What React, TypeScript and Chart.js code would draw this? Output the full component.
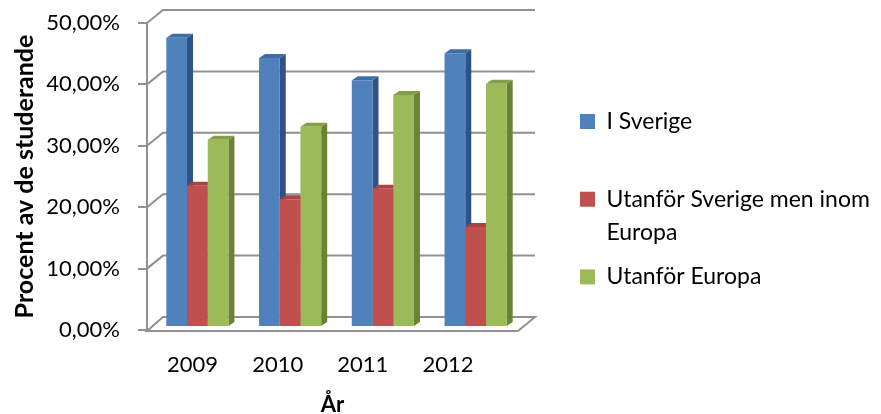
import React, { useEffect, useRef } from 'react';
import { Chart, registerables } from 'chart.js';

Chart.register(...registerables);

const years = ['2009', '2010', '2011', '2012'];
const iSverige = [47.1, 43.8, 40.2, 44.6];
const inomEuropa = [23.0, 20.8, 22.5, 16.3];
const utanforEuropa = [30.5, 32.6, 37.8, 39.6];
const seriesNames = ['I Sverige', 'Utanför Sverige men inom Europa', 'Utanför Europa'];
const legendLines = [['I Sverige', ''], ['Utanför Sverige men inom', 'Europa'], ['Utanför Europa']];

const FONT = 'Lato, "Open Sans", sans-serif';
const frontColors = ['#4F81BD', '#C0504D', '#9BBB59'];
const topColors = ['#3F6DA6', '#A94442', '#849F47'];
const sideColors = ['#2F5388', '#8A3533', '#6A8336'];

const DEPTH_X = 16;
const DEPTH_Y = -13;
const BAR_SHIFT_X = 4;
const BAR_SHIFT_Y = -3;
const BAR_DX = 6;
const BAR_DY = -4;
const GRID = '#919191';
const LEGEND_PAD = 11;

const threeD = {
  id: 'threeD',
  afterLayout(chart: any) {
    const xl = chart.scales.xl;
    const area = chart.chartArea;
    if (xl) {
      xl.left = area.left + 3;
      xl.right = area.left + 3 + (area.right - area.left) * 0.918;
      xl.width = xl.right - xl.left;
      xl.configure();
    }
    const lg = chart.legend;
    if (lg) {
      lg.left = 580 - LEGEND_PAD;
      lg.right = chart.width;
      lg.width = lg.right - lg.left;
      lg.top = 110 - LEGEND_PAD;
      lg.bottom = chart.height;
      lg.height = lg.bottom - lg.top;
    }
  },
  beforeDatasetsDraw(chart: any) {
    const { ctx, chartArea } = chart;
    const y = chart.scales.y;
    const { left, right } = chartArea;
    ctx.save();
    ctx.strokeStyle = GRID;
    ctx.lineWidth = 2;
    y.ticks.forEach((t: any) => {
      const py = y.getPixelForValue(t.value);
      ctx.beginPath();
      if (t.value === 0) {
        ctx.moveTo(left, py + 1);
        ctx.lineTo(right, py + 1);
        ctx.lineTo(right + DEPTH_X + 1, py + DEPTH_Y);
        ctx.lineTo(left + DEPTH_X, py + DEPTH_Y);
        ctx.closePath();
      } else {
        ctx.moveTo(left, py);
        ctx.lineTo(left + DEPTH_X, py + DEPTH_Y);
        ctx.lineTo(right + DEPTH_X + 1, py + DEPTH_Y);
      }
      ctx.stroke();
    });
    ctx.restore();

    ctx.save();
    ctx.translate(BAR_SHIFT_X, BAR_SHIFT_Y);
    const n = chart.data.labels.length;
    for (let i = 0; i < n; i++) {
      chart.data.datasets.forEach((_ds: any, di: number) => {
        const meta = chart.getDatasetMeta(di);
        const el = meta.data[i];
        if (!el) return;
        const w = el.width;
        const l = el.x - w / 2;
        const r = el.x + w / 2;
        ctx.fillStyle = sideColors[di];
        ctx.beginPath();
        ctx.moveTo(r, el.y);
        ctx.lineTo(r + BAR_DX, el.y + BAR_DY);
        ctx.lineTo(r + BAR_DX, el.base + BAR_DY);
        ctx.lineTo(r, el.base);
        ctx.closePath();
        ctx.fill();
        ctx.fillStyle = topColors[di];
        ctx.beginPath();
        ctx.moveTo(l, el.y);
        ctx.lineTo(l + BAR_DX, el.y + BAR_DY);
        ctx.lineTo(r + BAR_DX, el.y + BAR_DY);
        ctx.lineTo(r, el.y);
        ctx.closePath();
        ctx.fill();
      });
    }
  },
  afterDatasetsDraw(chart: any) {
    chart.ctx.restore();
  },
};

export default function App() {
  const ref = useRef<HTMLCanvasElement>(null);
  useEffect(() => {
    document.body.style.margin = '0';
    Chart.defaults.color = '#000';
    const chart = new Chart(ref.current as HTMLCanvasElement, {
      type: 'bar',
      data: {
        labels: years,
        datasets: [
          { label: seriesNames[0], data: iSverige, backgroundColor: frontColors[0], clip: false } as any,
          { label: seriesNames[1], data: inomEuropa, backgroundColor: frontColors[1], clip: false } as any,
          { label: seriesNames[2], data: utanforEuropa, backgroundColor: frontColors[2], clip: false } as any,
        ],
      },
      options: {
        animation: false,
        responsive: false,
        events: [],
        datasets: { bar: { categoryPercentage: 0.67, barPercentage: 1 } },
        layout: { padding: { top: 23, bottom: 0, left: 0, right: 0 } },
        plugins: {
          tooltip: { enabled: false },
          legend: {
            position: 'right',
            align: 'start',
            labels: {
              font: { family: FONT, size: 23, lineHeight: 1.45 },
              boxWidth: 15,
              boxHeight: 15,
              padding: LEGEND_PAD,
              generateLabels: (chart: any) => {
                const items = Chart.defaults.plugins.legend.labels.generateLabels(chart);
                items.forEach((it: any, i: number) => {
                  it.text = legendLines[i].length > 1 ? legendLines[i] : legendLines[i][0];
                  it.lineWidth = 0;
                  it.strokeStyle = 'transparent';
                });
                return items;
              },
            },
          },
        },
        scales: {
          x: {
            type: 'category',
            position: 'bottom',
            weight: 2,
            grid: { display: false, drawTicks: false },
            border: { display: false },
            ticks: { display: false },
            title: {
              display: true,
              text: 'År',
              font: { family: FONT, size: 22, weight: 'bold' },
              padding: { top: -8.6, bottom: -4.2 },
            },
          },
          xl: {
            type: 'category',
            labels: years,
            position: 'bottom',
            weight: 1,
            grid: { display: false, drawTicks: false },
            border: { display: false },
            ticks: { font: { family: FONT, size: 22 }, padding: 22, maxRotation: 0, autoSkip: false },
          },
          y: {
            min: 0,
            max: 50,
            afterFit: (s: any) => {
              s.width = 147;
              s.paddingTop = 0;
              s.paddingBottom = 0;
            },
            ticks: {
              stepSize: 10,
              padding: 18,
              font: { family: FONT, size: 22 },
              callback: (v: any) => Number(v).toFixed(2).replace('.', ',') + '%',
            },
            grid: { drawOnChartArea: false, drawTicks: true, tickLength: 9, color: GRID, lineWidth: 2 },
            border: { display: true, color: GRID, width: 2 },
            title: {
              display: true,
              text: 'Procent av de studerande',
              font: { family: FONT, size: 25, weight: 'bold' },
              padding: { top: 10, bottom: 0 },
            },
          },
          yr: {
            type: 'linear',
            position: 'right',
            display: true,
            grid: { display: false, drawTicks: false },
            border: { display: false },
            ticks: { display: false },
            afterFit: (s: any) => {
              const lw = s.chart.legend ? s.chart.legend.width : 0;
              s.width = Math.max(0, s.chart.width - lw - 518);
            },
          },
        },
      } as any,
      plugins: [threeD],
    });
    return () => chart.destroy();
  }, []);
  return (
    <div style={{ width: 881, height: 414 }}>
      <canvas ref={ref} width={881} height={414} />
    </div>
  );
}
